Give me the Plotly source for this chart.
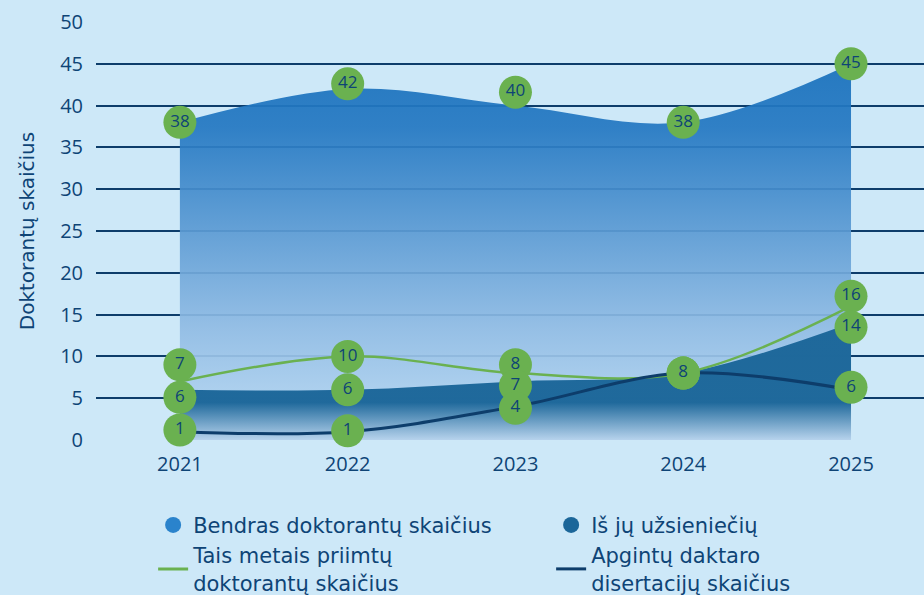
import plotly.graph_objects as go

years = ["2021", "2022", "2023", "2024", "2025"]
total_students = [38, 42, 40, 38, 45]
foreign_students = [6, 6, 7, 8, 14]
admitted_students = [7, 10, 8, 8, 16]
defended_theses = [1, 1, 4, 8, 6]

name_total = "Bendras doktorantų skaičius"
name_foreign = "Iš jų užsieniečių"
name_admitted = "Tais metais priimtų<br>doktorantų skaičius"
name_defended = "Apgintų daktaro<br>disertacijų skaičius"

# label nudges (axis units) so the circular labels do not collide
nudge_total = [0, 0.6, 1.6, 0, 0]
nudge_foreign = [-0.9, 0, -0.5, 0, -0.5]
nudge_admitted = [2, 0, 1, 0, 1.2]
nudge_defended = [0.2, 0.1, -0.2, 0, 0.3]

FONT = "DejaVu Sans"
NUMFONT = "Open Sans"
NAVY = "#0e4476"
GREEN = "#6ab150"
BG = "#cde8f8"

fig = go.Figure()

fig.add_trace(go.Scatter(
    x=years, y=total_students, mode="lines", line=dict(width=0, shape="spline"),
    fill="tozeroy",
    fillgradient=dict(type="vertical", start=0, stop=44,
                      colorscale=[[0, "rgba(190,220,244,0.92)"], [0.3, "rgba(145,188,228,0.92)"],
                                  [0.85, "rgba(36,120,194,0.93)"], [1, "rgba(30,116,190,0.95)"]]),
    showlegend=False, hoverinfo="skip"))

fig.add_trace(go.Scatter(
    x=years, y=foreign_students, mode="lines", line=dict(width=0, shape="spline"),
    fill="tozeroy",
    fillgradient=dict(type="vertical", start=0, stop=14,
                      colorscale=[[0, "rgba(182,210,236,0.95)"], [0.32, "rgba(27,102,153,0.97)"],
                                  [1, "rgba(27,102,153,0.97)"]]),
    showlegend=False, hoverinfo="skip"))

fig.add_trace(go.Scatter(
    x=years, y=admitted_students, mode="lines",
    line=dict(width=2.5, color=GREEN, shape="spline"), showlegend=False))

fig.add_trace(go.Scatter(
    x=years, y=defended_theses, mode="lines",
    line=dict(width=3, color="#0d3d6b", shape="spline"), showlegend=False))

# circular value labels (drawing order matches the reference overlap)
for vals, nud in [(total_students, nudge_total), (admitted_students, nudge_admitted),
                  (foreign_students, nudge_foreign), (defended_theses, nudge_defended)]:
    fig.add_trace(go.Scatter(
        x=years, y=[v + n for v, n in zip(vals, nud)], mode="markers+text",
        marker=dict(size=33, color=GREEN), text=[str(v) for v in vals],
        textposition="middle center",
        textfont=dict(family=NUMFONT, size=17, color=NAVY),
        showlegend=False, hoverinfo="skip", cliponaxis=False))

# legend entries
fig.add_trace(go.Scatter(x=[None], y=[None], mode="markers", name=name_total,
                         marker=dict(symbol="circle", size=18, color="#2a83cc")))
fig.add_trace(go.Scatter(x=[None], y=[None], mode="markers", name=name_foreign,
                         marker=dict(symbol="circle", size=18, color="#1b6699")))
fig.add_trace(go.Scatter(x=[None], y=[None], mode="lines", name=name_admitted,
                         line=dict(color=GREEN, width=3)))
fig.add_trace(go.Scatter(x=[None], y=[None], mode="lines", name=name_defended,
                         line=dict(color="#0d3d6b", width=3)))

fig.update_layout(
    width=924, height=595,
    paper_bgcolor=BG, plot_bgcolor=BG,
    margin=dict(l=96, r=0, t=22, b=155, autoexpand=False),
    font=dict(family=FONT, color=NAVY, size=20),
    showlegend=True,
    legend=dict(orientation="h", x=0.069, xanchor="left", y=-0.155, yanchor="top",
                entrywidth=353, entrywidthmode="pixels",
                font=dict(family=FONT, size=21, color=NAVY),
                bgcolor="rgba(0,0,0,0)", tracegroupgap=0, itemsizing="trace"),
)
fig.update_xaxes(type="category", range=[-0.5, 4.435], showgrid=False, zeroline=False,
                 showline=False, ticks="", tickfont=dict(family=NUMFONT, size=20, color=NAVY),
                 ticklabelstandoff=10)
fig.update_yaxes(range=[0, 50], dtick=5, showgrid=True, gridcolor="#0d3d6b", gridwidth=2,
                 zeroline=False, showline=False, ticks="",
                 tickfont=dict(family=NUMFONT, size=20, color=NAVY),
                 ticklabelstandoff=12,
                 title=dict(text="Doktorantų skaičius", font=dict(size=20, color=NAVY), standoff=20))

fig.write_html("out.html", config={"displayModeBar": False},
               post_script="document.body.style.margin='0';")
